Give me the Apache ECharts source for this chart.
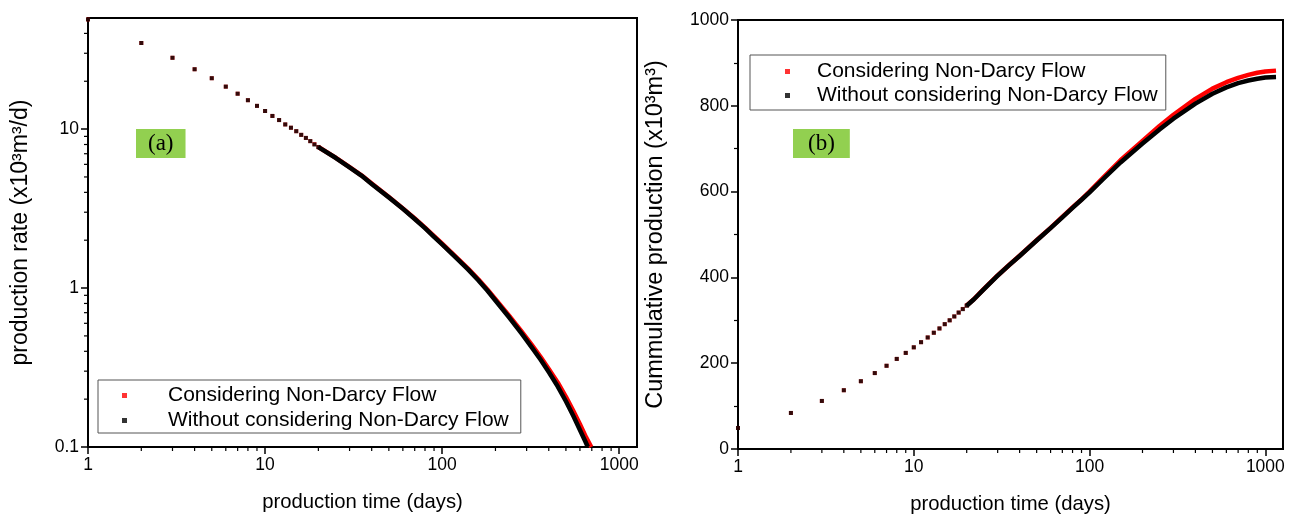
<!DOCTYPE html>
<html>
<head>
<meta charset="utf-8">
<script src="https://cdn.jsdelivr.net/npm/echarts@6/dist/echarts.min.js"></script>
<style>
html,body{margin:0;padding:0;background:#fff;}
#main{width:1296px;height:520px;}
</style>
</head>
<body>
<div id="main"></div>
<script>
var NAME_ND = 'Considering Non-Darcy Flow';
var NAME_D = 'Without considering Non-Darcy Flow';

// early days, one dot per day
var earlyDays = [1,2,3,4,5,6,7,8,9,10,11,12,13,14,15,16,17,18,19,20];
var rateEarlyD = [49,34.8,28.1,23.8,20.9,18.5,16.7,15.2,14.0,13.0,12.1,11.4,10.7,10.2,9.7,9.2,8.8,8.4,8.0,7.7];
var rateEarlyND = [49,34.8,28.1,23.8,20.9,18.5,16.7,15.2,14.0,13.0,12.1,11.4,10.7,10.2,9.7,9.2,8.8,8.4,8.05,7.72];
var cumEarlyD = [49,84,112,137,158,177,194,210,224,237,249,260,271,281,291,300,309,318,326,334];
var cumEarlyND = [49,84,112,137,158,177,194,210,224,237,249,260,271,281,291,300,309,318,326.5,334.5];

// dense part (days merge into a thick line)
var rateDaysD = [20,25,30,35,40,50,60,70,80,90,100,120,140,160,180,200,240,280,320,360,400,450,500,550,600,640,665];
var rateD = [7.7,6.6,5.75,5.1,4.52,3.72,3.15,2.72,2.38,2.1,1.88,1.55,1.31,1.12,0.965,0.835,0.65,0.52,0.425,0.354,0.296,0.24,0.194,0.157,0.128,0.11,0.1];
var rateDaysND = [20,25,30,35,40,50,60,70,80,90,100,120,140,160,180,200,240,280,320,360,400,450,500,550,600,650,695];
var rateND = [7.72,6.62,5.77,5.12,4.54,3.74,3.17,2.74,2.4,2.12,1.9,1.565,1.325,1.135,0.98,0.852,0.665,0.535,0.44,0.368,0.31,0.254,0.207,0.169,0.139,0.115,0.1];

var cumDays = [20,22,25,30,35,40,50,60,70,80,90,100,120,150,200,250,300,400,500,600,700,800,900,1000,1150];
var cumD = [334,349,372,404,429,450,486,515,540,562,581,598,630,668,712,745,770,805,828,843,853,859,863,866,867];
var cumND = [334.5,349.5,372.5,404.5,429.5,450.5,486.5,515.5,541,563,582,600,633,673,718,753,779,816,840,855,865,872,877,880,882];

// axis ticks
var logMinorX = [2,3,4,5,6,7,8,9,20,30,40,50,60,70,80,90,200,300,400,500,600,700,800,900];
var logMinorY = [0.2,0.3,0.4,0.5,0.6,0.7,0.8,0.9,2,3,4,5,6,7,8,9,20,30,40];

function zip(xs, ys){
	var out = [];
	for(var i=0;i<xs.length;i++){ out.push([xs[i], ys[i]]); }
	return out;
}

var chart = echarts.init(document.getElementById('main'), null, {renderer:'canvas'});

var FONT = 'Liberation Sans, Arial, sans-serif';
var RED = '#ff0000';
var BLACK = '#000000';

function minorTicks(grid, vals, fixed, dir){
	var data = vals.map(function(v){ return dir=='x' ? [v, fixed] : [fixed, v]; });
	return {
		type:'custom', xAxisIndex:grid, yAxisIndex:grid, silent:true, clip:false, z:10,
		data:data,
		renderItem:function(params, api){
			var p = api.coord([api.value(0), api.value(1)]);
			var shape = dir=='x' ? {x1:p[0], y1:p[1], x2:p[0], y2:p[1]+4} : {x1:p[0], y1:p[1], x2:p[0]-4, y2:p[1]};
			return {type:'line', shape:shape, style:{stroke:'#000', lineWidth:1.2}};
		}
	};
}

function dots(name, grid, xs, ys, color, z){
	return {name:name, type:'scatter', xAxisIndex:grid, yAxisIndex:grid, symbol:'rect', symbolSize:4,
		itemStyle:{color:color}, data:zip(xs, ys), z:z, silent:true};
}
function thick(name, grid, xs, ys, color, z){
	return {name:name, type:'line', xAxisIndex:grid, yAxisIndex:grid, showSymbol:false, smooth:false,
		lineStyle:{color:color, width:4.5, join:'round', cap:'butt'}, itemStyle:{color:color},
		data:zip(xs, ys), z:z, silent:true};
}

function plain(v){ return String(v); }

var axisCommon = {
	axisLine:{show:true, onZero:false, lineStyle:{color:'#000', width:2}},
	axisTick:{show:true, inside:false, length:7, lineStyle:{color:'#000', width:1.5}},
	axisLabel:{color:'#000', fontFamily:FONT, fontSize:17.5, margin:9, formatter:plain},
	splitLine:{show:false},
	nameTextStyle:{color:'#000', fontFamily:FONT, fontSize:20.3}
};

function ax(extra){
	return echarts.util.merge(echarts.util.clone(axisCommon), extra, true);
}

var legendText = {color:'#000', fontFamily:FONT, fontSize:21};

var option = {
	animation:false,
	backgroundColor:'#fff',
	title:[
		{text:'(a)', left:136, top:129, backgroundColor:'#92d050', padding:[3,12,3,12],
			textStyle:{fontFamily:'Liberation Serif, Times New Roman, serif', fontSize:23, fontWeight:'normal', color:'#000'}},
		{text:'(b)', left:793, top:129, backgroundColor:'#92d050', padding:[3,15,3,15],
			textStyle:{fontFamily:'Liberation Serif, Times New Roman, serif', fontSize:23, fontWeight:'normal', color:'#000'}}
	],
	grid:[
		{left:88, top:18, width:549, height:429, show:true, borderColor:'#000', borderWidth:2, containLabel:false},
		{left:738, top:20, width:545, height:429, show:true, borderColor:'#000', borderWidth:2, containLabel:false}
	],
	legend:[
		{data:[NAME_ND, NAME_D], orient:'vertical', left:98, top:380, icon:'rect', itemWidth:5, itemHeight:5,
			itemGap:4, padding:[5,12,2,24], borderColor:'#555', borderWidth:1, selectedMode:false,
			textStyle:echarts.util.extend({padding:[0,0,0,36]}, legendText)},
		{data:[NAME_ND, NAME_D], orient:'vertical', left:750, top:55, icon:'rect', itemWidth:5, itemHeight:5,
			itemGap:3, padding:[6,8,4,35], borderColor:'#555', borderWidth:1, selectedMode:false,
			textStyle:echarts.util.extend({padding:[0,0,0,22]}, legendText)}
	],
	xAxis:[
		ax({type:'log', logBase:10, gridIndex:0, min:1, max:1260, name:'production time (days)',
			nameLocation:'middle', nameGap:45, axisLabel:{showMaxLabel:false}}),
		ax({type:'log', logBase:10, gridIndex:1, min:1, max:1260, name:'production time (days)',
			nameLocation:'middle', nameGap:45, axisLabel:{showMaxLabel:false}})
	],
	yAxis:[
		ax({type:'log', logBase:10, gridIndex:0, min:0.1, max:50, name:'production rate (x10³m³/d)',
			nameLocation:'middle', nameGap:56, nameTextStyle:{fontSize:23}, axisLabel:{showMaxLabel:false}}),
		ax({type:'value', gridIndex:1, min:0, max:1000, interval:200, name:'Cummulative production (x10³m³)',
			nameLocation:'middle', nameGap:70, nameTextStyle:{fontSize:23.5},
			minorTick:{show:true, splitNumber:2, length:4, lineStyle:{color:'#000', width:1.2}}})
	],
	series:[
		dots(NAME_ND, 0, earlyDays, rateEarlyND, RED, 2),
		thick(NAME_ND, 0, rateDaysND, rateND, RED, 2),
		dots(NAME_D, 0, earlyDays, rateEarlyD, BLACK, 3),
		thick(NAME_D, 0, rateDaysD, rateD, BLACK, 3),
		dots(NAME_ND, 1, earlyDays, cumEarlyND, RED, 2),
		thick(NAME_ND, 1, cumDays, cumND, RED, 2),
		dots(NAME_D, 1, earlyDays, cumEarlyD, BLACK, 3),
		thick(NAME_D, 1, cumDays, cumD, BLACK, 3),
		minorTicks(0, logMinorX, 0.1, 'x'),
		minorTicks(0, logMinorY, 1, 'y'),
		minorTicks(1, logMinorX, 0, 'x')
	]
};

chart.setOption(option);
</script>
</body>
</html>
